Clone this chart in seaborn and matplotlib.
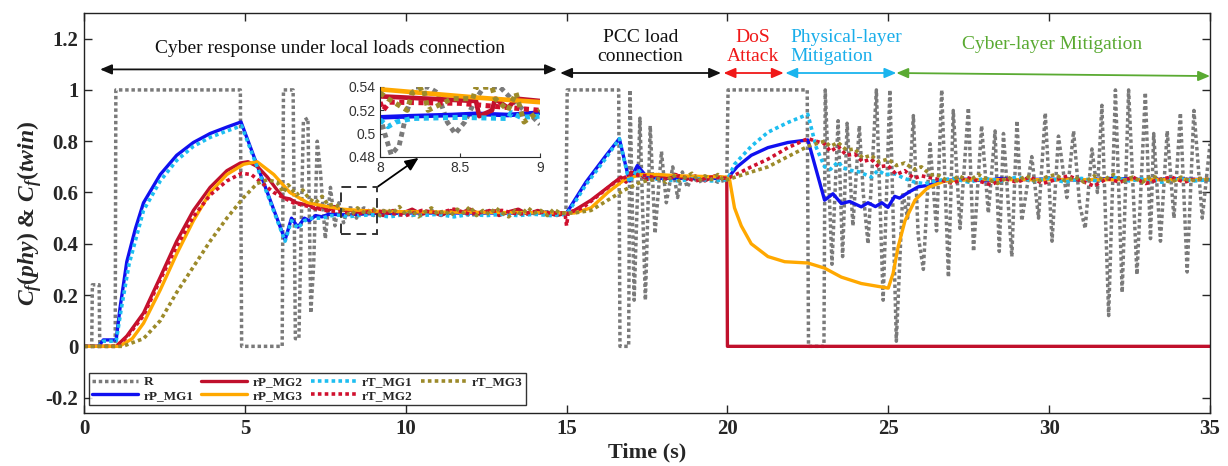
import numpy as np
import pandas as pd
import matplotlib
matplotlib.use("Agg")
import matplotlib.pyplot as plt
import seaborn as sns
from matplotlib.patches import Rectangle
from matplotlib.font_manager import FontProperties

# ---------------- data ----------------
R_pts = [(0,0),(0.24,0),(0.26,0.24),(0.47,0.24),(0.49,0),(0.97,0),(0.99,1.0),(4.86,1.0),(4.90,0),(6.16,0),
         (6.20,1.0),(6.50,1.0),(6.57,0.03),(6.68,0.03),(6.82,0.88),(6.96,0.89),(7.05,0.13),(7.14,0.32),(7.25,0.80),
         (7.35,0.68),(7.50,0.42),(7.66,0.62),(7.80,0.47),(7.92,0.56),(8.00,0.515),(8.07,0.482),(8.20,0.54),(8.30,0.54),
         (8.36,0.535),(8.47,0.50),(8.60,0.53),(8.70,0.54),(8.80,0.535),(8.90,0.52),(9.00,0.51),(9.3,0.53),(9.6,0.515),
         (9.9,0.525),(10.2,0.51),(10.5,0.52),(10.8,0.53),(11.1,0.515),(11.4,0.52),(11.7,0.525),(12.0,0.51),(12.3,0.52),
         (12.6,0.53),(12.9,0.515),(13.2,0.52),(13.5,0.525),(13.8,0.515),(14.1,0.52),(14.4,0.525),(14.7,0.52),(14.98,0.52),
         (15.02,1.0),(16.62,1.0),(16.66,0.0),(16.93,0.0),(16.97,1.0),(17.10,0.18),(17.28,0.89),(17.45,0.18),(17.60,0.86),
         (17.75,0.44),(17.95,0.76),(18.10,0.56),(18.30,0.70),(18.45,0.58),(18.60,0.68),(18.75,0.62),(18.90,0.66),(19.1,0.64),
         (19.4,0.66),(19.7,0.64),(19.98,0.65),(20.02,1.0),(22.48,1.0),(22.52,0.0),(23.00,0.0),(23.04,1.0),(23.25,0.32),
         (23.44,0.88),(23.58,0.35),(23.72,0.87),(23.90,0.47),(24.10,0.86),(24.22,0.60),(24.37,0.40),(24.50,0.70),(24.63,1.0),
         (24.84,0.18),(25.05,1.0),(25.25,0.02),(25.45,0.60),(25.60,0.50),(25.78,0.90),(25.93,0.43),(26.09,0.30),(26.30,0.79),
         (26.50,0.45),(26.66,1.0),(26.87,0.27),(27.02,0.92),(27.23,0.46),(27.49,0.93),(27.65,0.37),(27.90,0.86),(28.11,0.52),
         (28.32,0.84),(28.45,0.37),(28.58,0.83),(28.84,0.35),(29.00,0.88),(29.15,0.49),(29.46,0.74),(29.67,0.50),(29.88,0.91),
         (30.09,0.41),(30.29,0.82),(30.55,0.58),(30.76,0.84),(30.95,0.55),(31.12,0.46),(31.33,0.77),(31.50,0.60),(31.64,0.94),
         (31.85,0.12),(32.06,1.0),(32.27,0.21),(32.47,1.0),(32.73,0.28),(32.99,0.99),(33.15,0.42),(33.25,0.83),(33.46,0.41),
         (33.67,0.84),(33.88,0.50),(34.08,0.91),(34.29,0.29),(34.50,0.92),(34.76,0.50),(35.0,0.79)]

rP_MG1_pts = [(0,0),(0.45,0.0),(0.6,0.025),(1.0,0.025),(1.12,0.15),(1.33,0.33),(1.6,0.46),(1.85,0.56),(2.37,0.67),
              (2.88,0.745),(3.4,0.795),(3.92,0.83),(4.44,0.855),(4.88,0.875),(6.25,0.415),(6.45,0.50),(6.65,0.465),
              (6.85,0.50),(7.0,0.49),(7.2,0.51),(7.4,0.505),(7.6,0.515),(8.0,0.513),(8.5,0.515),(9.0,0.518),(10.0,0.52),
              (12.0,0.52),(15.0,0.52),(15.3,0.58),(15.6,0.64),(15.9,0.69),(16.2,0.74),(16.64,0.81),(16.95,0.645),
              (17.2,0.705),(17.5,0.66),(18.0,0.655),(20.0,0.655),(20.3,0.70),(20.74,0.745),(21.26,0.775),(21.88,0.795),
              (22.5,0.805),(23.02,0.57),(23.28,0.595),(23.54,0.557),(23.8,0.565),(24.16,0.544),(24.37,0.56),(24.6,0.545),
              (24.8,0.56),(24.99,0.542),(25.2,0.585),(25.35,0.578),(25.62,0.60),(25.93,0.622),(26.24,0.628),(26.56,0.64),
              (26.9,0.648),(27.5,0.652),(28.0,0.645),(28.5,0.655),(29.0,0.65),(30.0,0.652),(31.0,0.648),(32.0,0.655),
              (33.0,0.65),(34.0,0.652),(35.0,0.65)]

rP_MG2_pts = [(0,0),(1.0,0),(1.33,0.04),(1.85,0.13),(2.37,0.27),(2.88,0.41),(3.4,0.53),(3.92,0.62),(4.44,0.685),
              (4.86,0.715),(5.1,0.72),(5.4,0.70),(5.7,0.66),(6.0,0.61),(6.2,0.58),(6.4,0.575),(6.6,0.56),(6.8,0.555),
              (7.0,0.55),(7.2,0.535),(7.35,0.55),(7.6,0.53),(7.8,0.545),(8.0,0.53),(8.3,0.53),(8.6,0.52),(8.7,0.53),
              (9.0,0.525),(9.3,0.51),(9.6,0.53),(9.9,0.52),(10.2,0.535),(10.5,0.515),(10.8,0.525),(11.1,0.51),(11.4,0.53),
              (11.7,0.52),(12.0,0.535),(12.3,0.515),(12.6,0.53),(12.9,0.51),(13.2,0.525),(13.5,0.535),(13.8,0.515),
              (14.1,0.53),(14.4,0.52),(14.7,0.51),(15.0,0.52),(15.24,0.53),(15.76,0.57),(16.28,0.62),(16.69,0.66),
              (16.85,0.64),(17.0,0.68),(17.3,0.67),(17.5,0.65),(17.8,0.67),(18.1,0.655),(18.4,0.67),(18.7,0.65),
              (19.0,0.665),(19.3,0.645),(19.6,0.665),(19.98,0.655),(20.0,0.0),(35.0,0.0)]

rP_MG3_pts = [(0,0),(1.1,0.0),(1.5,0.03),(1.85,0.09),(2.37,0.22),(2.88,0.36),(3.4,0.49),(3.92,0.60),(4.44,0.67),
              (4.96,0.71),(5.38,0.72),(5.9,0.67),(6.4,0.60),(6.95,0.56),(7.56,0.545),(8.0,0.535),(8.6,0.53),(9.0,0.527),
              (10.0,0.525),(12.0,0.523),(15.0,0.52),(15.24,0.52),(15.76,0.54),(16.28,0.60),(16.8,0.65),(17.3,0.67),
              (17.83,0.67),(18.5,0.665),(19.99,0.66),(20.06,0.655),(20.22,0.54),(20.43,0.47),(20.74,0.40),(21.26,0.35),
              (21.78,0.33),(22.5,0.325),(23.02,0.305),(23.54,0.27),(24.16,0.245),(25.0,0.227),(25.15,0.285),(25.31,0.39),
              (25.52,0.49),(25.83,0.57),(26.24,0.62),(26.76,0.645),(27.5,0.65),(35.0,0.65)]

rT_MG1_pts = [(0,0),(0.45,0),(0.6,0.02),(1.0,0.02),(1.15,0.14),(1.4,0.32),(1.85,0.53),(2.37,0.645),(2.88,0.725),
              (3.4,0.78),(3.92,0.815),(4.44,0.84),(4.9,0.86),(6.25,0.41),(6.45,0.49),(6.65,0.46),(6.85,0.49),(7.1,0.50),
              (7.4,0.50),(7.7,0.51),(8.0,0.512),(8.2,0.505),(8.5,0.51),(9.0,0.513),(9.5,0.505),(10.0,0.515),(10.5,0.51),
              (11.0,0.515),(11.5,0.505),(12.0,0.515),(12.5,0.51),(13.0,0.515),(13.5,0.51),(14.0,0.515),(14.5,0.51),
              (15.0,0.515),(15.3,0.57),(15.6,0.63),(15.9,0.68),(16.2,0.73),(16.64,0.81),(16.95,0.64),(17.2,0.69),
              (17.5,0.655),(18.0,0.65),(18.5,0.645),(19.0,0.655),(19.5,0.645),(20.0,0.65),(20.22,0.71),(20.74,0.78),
              (21.26,0.835),(21.88,0.873),(22.5,0.905),(22.76,0.776),(23.02,0.70),(23.2,0.69),(23.44,0.72),(23.6,0.695),
              (23.85,0.686),(24.1,0.68),(24.47,0.66),(24.68,0.686),(24.9,0.67),(25.2,0.673),(25.5,0.655),(25.83,0.64),
              (26.14,0.634),(26.45,0.645),(27.0,0.655),(27.5,0.64),(28.0,0.655),(28.5,0.645),(29.0,0.66),(29.5,0.645),
              (30.0,0.655),(30.5,0.64),(31.0,0.655),(31.5,0.645),(32.0,0.66),(32.5,0.645),(33.0,0.655),(33.5,0.64),
              (34.0,0.655),(34.5,0.645),(35.0,0.65)]

rT_MG2_pts = [(0,0),(1.0,0),(1.33,0.035),(1.85,0.12),(2.37,0.26),(2.88,0.39),(3.4,0.505),(3.92,0.59),(4.44,0.645),
              (4.9,0.675),(5.2,0.67),(5.5,0.64),(5.9,0.60),(6.2,0.58),(6.5,0.56),(7.0,0.545),(7.5,0.53),(8.0,0.525),
              (8.5,0.515),(9.0,0.53),(9.5,0.52),(10.0,0.51),(10.5,0.53),(11.0,0.52),(11.5,0.535),(12.0,0.515),
              (12.5,0.525),(13.0,0.53),(13.5,0.515),(14.0,0.525),(14.5,0.52),(14.95,0.52),(15.0,0.47),(15.05,0.52),
              (15.5,0.54),(16.0,0.59),(16.5,0.64),(17.0,0.67),(17.5,0.665),(18.0,0.65),(18.5,0.665),(19.0,0.645),
              (19.5,0.66),(20.0,0.655),(20.22,0.667),(20.74,0.70),(21.26,0.73),(21.88,0.775),(22.5,0.81),(23.02,0.79),
              (23.2,0.76),(23.44,0.78),(23.7,0.745),(23.96,0.75),(24.2,0.72),(24.47,0.73),(24.7,0.70),(24.99,0.705),
              (25.25,0.67),(25.51,0.685),(25.8,0.655),(26.03,0.665),(26.6,0.65),(27.0,0.635),(27.4,0.66),(27.8,0.645),
              (28.2,0.63),(28.6,0.655),(29.0,0.64),(29.4,0.66),(29.8,0.635),(30.2,0.65),(30.6,0.665),(31.0,0.645),
              (31.4,0.625),(31.8,0.655),(32.2,0.64),(32.6,0.66),(33.0,0.635),(33.4,0.65),(33.8,0.66),(34.2,0.64),
              (34.6,0.655),(35.0,0.65)]

rT_MG3_pts = [(0,0),(1.2,0),(1.85,0.03),(2.37,0.10),(2.88,0.21),(3.4,0.31),(3.92,0.41),(4.44,0.50),(4.96,0.58),
              (5.38,0.635),(5.7,0.65),(6.0,0.64),(6.2,0.60),(6.35,0.63),(6.6,0.59),(6.8,0.61),(7.0,0.575),(7.2,0.56),
              (7.4,0.585),(7.6,0.55),(7.8,0.555),(8.0,0.535),(8.3,0.51),(8.5,0.54),(8.6,0.53),(8.8,0.515),(9.0,0.535),
              (9.2,0.51),(9.4,0.535),(9.6,0.52),(9.8,0.545),(10.0,0.515),(10.2,0.53),(10.4,0.505),(10.6,0.525),
              (10.8,0.54),(11.0,0.515),(11.2,0.53),(11.4,0.51),(11.6,0.535),(11.8,0.52),(12.0,0.545),(12.2,0.51),
              (12.4,0.53),(12.6,0.515),(12.8,0.54),(13.0,0.52),(13.2,0.505),(13.4,0.53),(13.6,0.515),(13.8,0.54),
              (14.0,0.52),(14.2,0.53),(14.4,0.51),(14.6,0.535),(14.8,0.52),(15.0,0.52),(15.24,0.52),(15.76,0.53),
              (16.28,0.57),(16.8,0.61),(17.3,0.64),(17.83,0.655),(18.1,0.64),(18.3,0.67),(18.5,0.645),(18.7,0.66),
              (18.9,0.675),(19.1,0.645),(19.3,0.665),(19.5,0.65),(19.7,0.67),(19.9,0.645),(20.0,0.65),(20.74,0.68),
              (21.26,0.70),(21.88,0.74),(22.5,0.78),(23.02,0.80),(23.2,0.78),(23.44,0.795),(23.7,0.765),(23.96,0.77),
              (24.2,0.735),(24.47,0.745),(24.7,0.72),(24.99,0.73),(25.25,0.705),(25.51,0.715),(25.8,0.69),(26.03,0.70),
              (26.3,0.67),(26.6,0.665),(26.9,0.64),(27.2,0.665),(27.5,0.645),(27.8,0.67),(28.1,0.65),(28.4,0.635),
              (28.7,0.66),(29.0,0.645),(29.3,0.665),(29.6,0.64),(29.9,0.66),(30.2,0.67),(30.5,0.645),(30.8,0.66),
              (31.1,0.64),(31.4,0.665),(31.7,0.65),(32.0,0.67),(32.3,0.645),(32.6,0.66),(32.9,0.64),(33.2,0.665),
              (33.5,0.65),(33.8,0.64),(34.1,0.66),(34.4,0.645),(34.7,0.655),(35.0,0.65)]

# inset (zoom of 8 s - 9 s)
R_in = [(8.0,0.515),(8.03,0.50),(8.07,0.482),(8.12,0.49),(8.17,0.52),(8.22,0.54),(8.3,0.54),(8.36,0.535),(8.42,0.51),
        (8.47,0.50),(8.53,0.51),(8.6,0.53),(8.65,0.54),(8.75,0.54),(8.82,0.53),(8.9,0.52),(8.95,0.515),(9.0,0.508)]
rP_MG1_in = [(8.0,0.514),(8.2,0.515),(8.45,0.516),(8.6,0.517),(8.8,0.516),(9.0,0.518)]
rP_MG2_in = [(8.0,0.532),(8.3,0.53),(8.6,0.528),(8.62,0.515),(8.7,0.52),(8.72,0.53),(8.8,0.522),(8.85,0.53),(9.0,0.528)]
rP_MG3_in = [(8.0,0.538),(8.6,0.531),(9.0,0.527)]
rT_MG1_in = [(8.0,0.512),(8.05,0.506),(8.1,0.51),(8.2,0.513),(8.5,0.514),(8.8,0.513),(8.82,0.518),(8.88,0.514),(9.0,0.515)]
rT_MG2_in = [(8.0,0.527),(8.02,0.52),(8.06,0.527),(8.5,0.526),(9.0,0.52)]
rT_MG3_in = [(8.0,0.535),(8.05,0.53),(8.17,0.52),(8.2,0.535),(8.27,0.54),(8.3,0.52),(8.45,0.53),(8.58,0.53),(8.6,0.54),
             (8.7,0.54),(8.72,0.53),(8.8,0.52),(8.85,0.535),(8.9,0.51),(9.0,0.52)]

labels = ["R", "rP_MG1", "rP_MG2", "rP_MG3", "rT_MG1", "rT_MG2", "rT_MG3"]
x_ticks = [0, 5, 10, 15, 20, 25, 30, 35]
y_ticks = [-0.2, 0, 0.2, 0.4, 0.6, 0.8, 1, 1.2]

# ---------------- styling ----------------
sns.set_style("ticks")
plt.rcParams['font.family'] = ['Liberation Serif', 'DejaVu Serif']
plt.rcParams['axes.unicode_minus'] = False
plt.rcParams['mathtext.fontset'] = 'custom'
plt.rcParams['mathtext.it'] = 'Liberation Serif:italic:bold'
plt.rcParams['mathtext.rm'] = 'Liberation Serif:bold'
plt.rcParams['mathtext.bf'] = 'Liberation Serif:bold'

DOT = (0, (1, 0.9))
styles = {
    "R":      dict(color="#7A7A7A", ls=(0, (1, 0.8)), lw=2.5),
    "rP_MG1": dict(color="#1010F0", ls="-", lw=2.4),
    "rP_MG2": dict(color="#C0102C", ls="-", lw=2.4),
    "rP_MG3": dict(color="#FFA800", ls="-", lw=2.4),
    "rT_MG1": dict(color="#1EBEF0", ls=DOT, lw=2.6),
    "rT_MG2": dict(color="#D0102E", ls=DOT, lw=2.6),
    "rT_MG3": dict(color="#9C8A2A", ls=DOT, lw=2.6),
}
series_main = [R_pts, rP_MG1_pts, rP_MG2_pts, rP_MG3_pts, rT_MG1_pts, rT_MG2_pts, rT_MG3_pts]
series_in = [R_in, rP_MG1_in, rP_MG2_in, rP_MG3_in, rT_MG1_in, rT_MG2_in, rT_MG3_in]

W, H = 1228, 466
fig = plt.figure(figsize=(W / 100, H / 100), dpi=100)
ax = fig.add_axes([84 / W, 1 - 413 / H, 1126 / W, 400 / H])

def draw(axis, pts, name, label=None, lwscale=1.0):
    df = pd.DataFrame(pts, columns=["t", "v"])
    st = styles[name]
    sns.lineplot(data=df, x="t", y="v", ax=axis, color=st["color"], linestyle=st["ls"],
                 linewidth=st["lw"] * lwscale, estimator=None, sort=False, label=label)

for name, pts in zip(labels, series_main):
    draw(ax, pts, name, label=name)

ax.set_xlim(0, 35)
ax.set_ylim(-0.26, 1.3)
ax.set_xticks(x_ticks)
ax.set_yticks(y_ticks)
ax.set_xticklabels([f"{v:g}" for v in x_ticks])
ax.set_yticklabels([f"{v:g}" for v in y_ticks])
ax.tick_params(direction="in", top=True, right=True, length=6, width=1, labelsize=15, pad=4)
for lab in ax.get_xticklabels() + ax.get_yticklabels():
    lab.set_fontweight("bold")
for sp in ax.spines.values():
    sp.set_visible(True)
    sp.set_linewidth(1.0)
    sp.set_color("#222222")

ax.set_xlabel("Time (s)", fontsize=16, fontweight="bold", labelpad=3)
ax.set_ylabel(r"$C_f(phy)$ & $C_f(twin)$", fontsize=17, fontweight="bold", labelpad=1)

leg = ax.legend(loc="lower left", bbox_to_anchor=(0.004, 0.02), ncol=4, frameon=True, fancybox=False,
                prop=FontProperties(family="Liberation Serif", weight="bold", size=9.5),
                handlelength=3.5, columnspacing=0.6, handletextpad=0.4, labelspacing=0.1,
                borderpad=0.25, borderaxespad=0)
leg.get_frame().set_edgecolor("black")
leg.get_frame().set_linewidth(1.0)

# ---------------- annotations ----------------
tf = dict(family="Liberation Serif", fontsize=14)
ax.text(7.66, 1.16, "Cyber response under local loads connection", ha="center", va="center", color="#111111", **tf)
ax.text(17.3, 1.167, "PCC load\nconnection", ha="center", va="center", color="#111111", linespacing=1.1, **tf)
ax.text(20.8, 1.167, "DoS\nAttack", ha="center", va="center", color="#F01818", linespacing=1.1, **tf)
ax.text(21.95, 1.167, "Physical-layer\nMitigation", ha="left", va="center", color="#1AAEEA", linespacing=1.1, **tf)
ax.text(30.1, 1.178, "Cyber-layer Mitigation", ha="center", va="center", color="#5AAA32", **tf)

def darrow(x0, y0, x1, y1, color):
    ax.annotate("", xy=(x1, y1), xytext=(x0, y0),
                arrowprops=dict(arrowstyle="<|-|>,head_length=0.7,head_width=0.3", color=color, lw=1.3,
                                shrinkA=0, shrinkB=0))

darrow(0.5, 1.08, 14.7, 1.08, "#111111")
darrow(14.8, 1.066, 19.8, 1.066, "#111111")
darrow(19.88, 1.066, 21.75, 1.066, "#F01818")
darrow(21.8, 1.066, 25.25, 1.066, "#1AB4EE")
darrow(25.25, 1.066, 35.0, 1.054, "#5AAA32")

ax.add_patch(Rectangle((8.0, 0.44), 1.1, 0.18, fill=False, linestyle=(0, (5, 3)), lw=1.4, edgecolor="#333333", zorder=5))
ax.annotate("", xy=(10.4, 0.735), xytext=(9.1, 0.62),
            arrowprops=dict(arrowstyle="-|>,head_length=0.8,head_width=0.35", color="black", lw=1.3,
                            shrinkA=0, shrinkB=0))

# ---------------- inset ----------------
axi = fig.add_axes([380 / W, 1 - 157 / H, 160 / W, 70 / H])
for name, pts in zip(labels, series_in):
    draw(axi, pts, name, label=None, lwscale=1.4)
if axi.get_legend() is not None:
    axi.get_legend().remove()
axi.set_xlim(8, 9)
axi.set_ylim(0.48, 0.54)
axi.set_xticks([8, 8.5, 9])
axi.set_xticklabels(["8", "8.5", "9"])
axi.set_yticks([0.48, 0.5, 0.52, 0.54])
axi.set_yticklabels(["0.48", "0.5", "0.52", "0.54"])
axi.set_xlabel("")
axi.set_ylabel("")
axi.tick_params(direction="in", length=3, labelsize=10, pad=3, colors="#333333")
for lab in axi.get_xticklabels() + axi.get_yticklabels():
    lab.set_family("Liberation Sans")
axi.spines["top"].set_visible(False)
axi.spines["right"].set_visible(False)
axi.patch.set_alpha(1.0)

fig.savefig("out.png", dpi=100)
